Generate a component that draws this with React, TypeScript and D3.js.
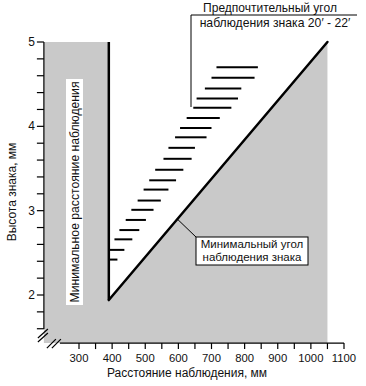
import React from 'react';
import * as d3 from 'd3';

// axis ticks
const xMajorTicks = [300, 400, 500, 600, 700, 800, 900, 1000, 1100];
const xMinorTicks = [350, 450, 550, 650, 750, 850, 950, 1050];
const yMajorTicks = [2, 3, 4, 5];
const yMinorTicks = [1.6, 1.8, 2.2, 2.4, 2.6, 2.8, 3.2, 3.4, 3.6, 3.8, 4.2, 4.4, 4.6, 4.8];

// axis extents (broken axes start below/left of the first tick)
const xStart = 194;
const xEnd = 1100;
const yStart = 1.43;
const yEnd = 5;

// boundaries
const minDistance = 390;
const minAngleX = [390, 1050];
const minAngleY = [1.94, 5];

// preferred viewing angle 20'-22' : dashes
const dashHeight = [4.7, 4.575, 4.45, 4.33, 4.22, 4.1, 3.98, 3.87, 3.745, 3.615, 3.485, 3.36, 3.25, 3.12, 3.01, 2.89, 2.77, 2.66, 2.535, 2.42];
const dashStart = [715, 700, 680, 655, 645, 625, 605, 590, 570, 555, 530, 512, 495, 477, 458, 441, 422, 407, 390, 390];
const dashEnd = [840, 830, 790, 780, 760, 725, 700, 685, 650, 640, 615, 593, 570, 547, 525, 502, 482, 461, 437, 416];

const W = 366;
const H = 386;
const font = 'Liberation Sans, Arial, sans-serif';

export default function App() {
  const x = d3.scaleLinear().domain([300, 1100]).range([79, 344]);
  const y = d3.scaleLinear().domain([2, 5]).range([295, 42]);

  const x0 = x(xStart);
  const yBottom = y(yStart);
  const line = d3.line<[number, number]>().x(d => d[0]).y(d => d[1]);

  // shaded zone: everything except the triangle between the two limits
  const grayPoly: [number, number][] = [
    [x0, y(yEnd)],
    [x(minDistance), y(yEnd)],
    [x(minDistance), y(minAngleY[0])],
    [x(minAngleX[1]), y(minAngleY[1])],
    [x(minAngleX[1]), yBottom],
    [x0, yBottom],
  ];

  // point on the min angle line used by the leader
  const lx = 597;
  const ly = minAngleY[0] + (lx - minAngleX[0]) * (minAngleY[1] - minAngleY[0]) / (minAngleX[1] - minAngleX[0]);

  return (
    <svg width={W} height={H} style={{ position: 'absolute', left: 0, top: 0, background: '#fff' }} fontFamily={font}>
      <path d={line(grayPoly) + 'Z'} fill="#c9c9c9" />

      {/* vertical label box */}
      <rect x={66} y={79} width={17} height={226} fill="#fff" />
      <text transform="translate(79,192) rotate(-90)" textAnchor="middle" fontSize={12.2} fill="#111">
        Минимальное расстояние наблюдения
      </text>

      {/* min distance limit */}
      <line x1={x(minDistance)} x2={x(minDistance)} y1={y(yEnd)} y2={y(minAngleY[0])} stroke="#000" strokeWidth={2.5} />
      {/* min angle limit */}
      <line x1={x(minAngleX[0])} y1={y(minAngleY[0])} x2={x(minAngleX[1])} y2={y(minAngleY[1])} stroke="#000" strokeWidth={2.5} strokeLinecap="round" />

      {/* dashes */}
      {dashHeight.map((h, i) => (
        <line key={i} x1={x(dashStart[i])} x2={x(dashEnd[i])} y1={y(h)} y2={y(h)} stroke="#000" strokeWidth={2} />
      ))}

      {/* y axis */}
      <line x1={x0} x2={x0} y1={y(yEnd)} y2={yBottom - 14} stroke="#000" strokeWidth={1.2} />
      {yMinorTicks.concat(yMajorTicks).map(t => (
        <line key={'yt' + t} x1={x0 - 7} x2={x0} y1={y(t)} y2={y(t)} stroke="#000" strokeWidth={1.2} />
      ))}
      {yMajorTicks.map(t => (
        <text key={'yl' + t} x={x0 - 9} y={y(t) + 4} textAnchor="end" fontSize={12} fill="#111">{t}</text>
      ))}
      <line x1={x0 - 6} y1={y(yStart) - 5} x2={x0 + 4} y2={y(yStart) - 14} stroke="#000" strokeWidth={1.2} />
      <line x1={x0 - 6} y1={y(yStart) - 1} x2={x0 + 4} y2={y(yStart) - 10} stroke="#000" strokeWidth={1.2} />

      {/* x axis */}
      <line x1={x0 + 16} x2={x(xEnd)} y1={yBottom} y2={yBottom} stroke="#000" strokeWidth={1.2} />
      {xMajorTicks.concat(xMinorTicks).map(t => (
        <line key={'xt' + t} x1={x(t)} x2={x(t)} y1={yBottom} y2={yBottom + 6} stroke="#000" strokeWidth={1.2} />
      ))}
      {xMajorTicks.map(t => (
        <text key={'xl' + t} x={x(t)} y={yBottom + 19} textAnchor="middle" fontSize={11.3} fill="#111">{t}</text>
      ))}
      <line x1={x0 + 3} y1={yBottom + 5} x2={x0 + 12} y2={yBottom - 4} stroke="#000" strokeWidth={1.2} />
      <line x1={x0 + 8} y1={yBottom + 5} x2={x0 + 17} y2={yBottom - 4} stroke="#000" strokeWidth={1.2} />

      {/* axis titles */}
      <text x={187} y={377} textAnchor="middle" fontSize={12} fill="#111">Расстояние наблюдения, мм</text>
      <text transform="translate(16,192) rotate(-90)" textAnchor="middle" fontSize={12} fill="#111">Высота знака, мм</text>

      {/* preferred angle annotation */}
      <text x={270} y={12} textAnchor="middle" fontSize={12} fill="#111">Предпочтительный угол</text>
      <text x={275} y={27} textAnchor="middle" fontSize={12.2} fill="#111">наблюдения знака 20′ - 22′</text>
      <line x1={191} x2={357} y1={15} y2={15} stroke="#000" strokeWidth={1} />
      <line x1={191} x2={191} y1={15} y2={107} stroke="#000" strokeWidth={1} />

      {/* min angle annotation */}
      <line x1={x(lx)} y1={y(ly)} x2={197} y2={238} stroke="#000" strokeWidth={1} />
      <rect x={196} y={237} width={112} height={28} fill="#fff" stroke="#000" strokeWidth={1} />
      <text x={252} y={248} textAnchor="middle" fontSize={11.5} fill="#111">Минимальный угол</text>
      <text x={252} y={261} textAnchor="middle" fontSize={11.5} fill="#111">наблюдения знака</text>
    </svg>
  );
}
